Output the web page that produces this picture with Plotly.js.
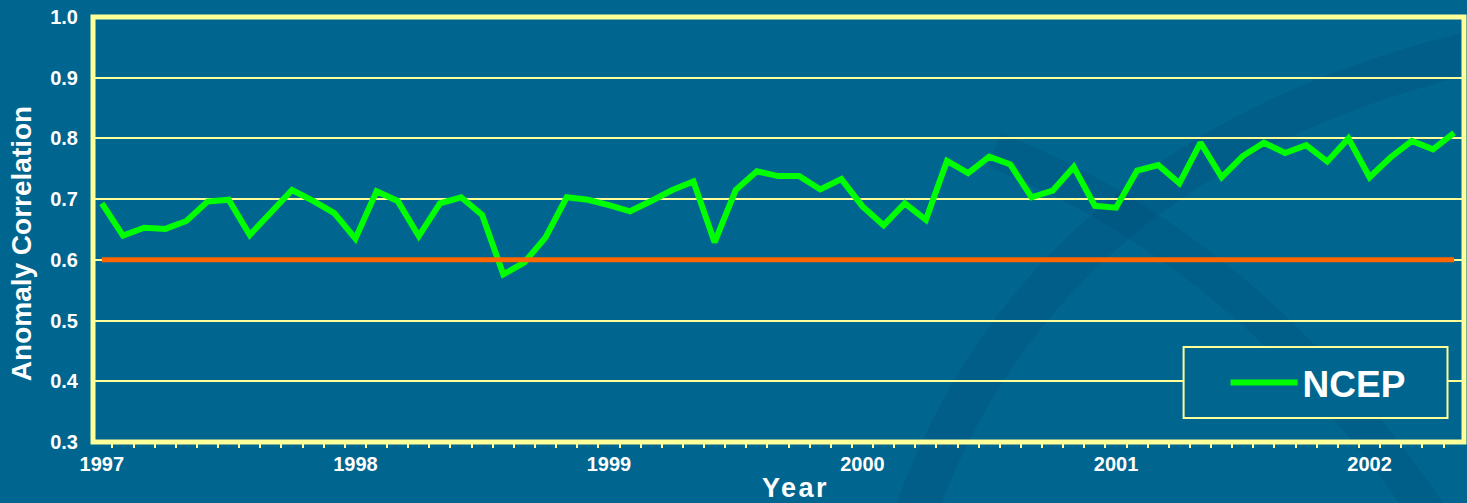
<!DOCTYPE html>
<html>
<head>
<meta charset="utf-8">
<script src="https://cdn.plot.ly/plotly-3.0.1.min.js"></script>
<style>
  html, body { margin: 0; padding: 0; background: #00658f; }
  #chart { width: 1467px; height: 503px; }
  .xtitle { letter-spacing: 2.5px; }
</style>
</head>
<body>
<div id="chart"></div>
<script>
// ---- Data ----
const startYear = 1997;           // first month: January 1997
const yearLabels = ['1997', '1998', '1999', '2000', '2001', '2002'];
// NCEP monthly anomaly correlation, Jan 1997 .. May 2002
const ncep = [
  0.693, 0.640, 0.653, 0.651, 0.664, 0.696, 0.699, 0.641, 0.678, 0.715, 0.697, 0.677,
  0.635, 0.713, 0.697, 0.639, 0.693, 0.703, 0.674, 0.576, 0.596, 0.637, 0.703, 0.699,
  0.690, 0.680, 0.697, 0.715, 0.729, 0.629, 0.715, 0.746, 0.738, 0.738, 0.716, 0.733,
  0.688, 0.657, 0.693, 0.666, 0.763, 0.743, 0.770, 0.757, 0.703, 0.714, 0.753, 0.689,
  0.686, 0.747, 0.756, 0.726, 0.793, 0.736, 0.771, 0.793, 0.776, 0.789, 0.762, 0.800,
  0.736, 0.769, 0.796, 0.782, 0.809
];
const refLevel = [0.6, 0.6];      // useful-skill threshold line (start, end)
const yTicks = [0.3, 0.4, 0.5, 0.6, 0.7, 0.8, 0.9, 1.0];
const yTickText = ['0.3', '0.4', '0.5', '0.6', '0.7', '0.8', '0.9', '1.0'];

// month categories
const months = ncep.map((_, i) => {
  const y = startYear + Math.floor(i / 12);
  const m = (i % 12) + 1;
  return y + '-' + (m < 10 ? '0' + m : '' + m);
});
const monthTickText = months.map(m => {
  const [y, mm] = m.split('-');
  return (mm === '01' && yearLabels.includes(y)) ? y : '';
});

const BG = '#00658f';
const PALE = '#ffff99';
const FONT = 'Liberation Sans, Arial, sans-serif';

const traces = [
  {
    x: months, y: ncep,
    type: 'scatter', mode: 'lines', name: 'NCEP',
    line: { color: '#00ff00', width: 6, shape: 'linear' }
  },
  {
    x: [months[0], months[months.length - 1]],
    y: refLevel,
    type: 'scatter', mode: 'lines',
    line: { color: '#ff6600', width: 5 },
    showlegend: false, hoverinfo: 'skip'
  }
];

function px2x(p) { return (p - 93) / 1371.5; }
function px2y(p) { return (442 - p) / 425; }

const layout = {
  width: 1467, height: 503,
  paper_bgcolor: BG,
  plot_bgcolor: 'rgba(0,0,0,0)',
  margin: { l: 93, r: 3, t: 17, b: 61, pad: 0 },
  font: { family: FONT, color: '#ffffff' },
  showlegend: true,
  legend: {
    x: px2x(1226), y: px2y(383), xanchor: 'left', yanchor: 'middle',
    bgcolor: 'rgba(0,0,0,0)', borderwidth: 0,
    font: { family: FONT, size: 37, color: '#ffffff', weight: 'bold' },
    itemwidth: 67
  },
  xaxis: {
    type: 'category',
    categoryorder: 'array', categoryarray: months,
    range: [-0.42, 64.47],
    tickmode: 'array', tickvals: months, ticktext: monthTickText,
    tickson: 'boundaries',
    ticks: 'outside', ticklen: 5, tickwidth: 2, tickcolor: PALE,
    showgrid: false, zeroline: false, showline: false,
    tickangle: 0,
    tickfont: { family: FONT, size: 20, color: '#ffffff', weight: 'bold' },
    ticklabelstandoff: 8,
    title: { text: 'Year', font: { family: FONT, size: 27, color: '#ffffff', weight: 'bold' }, standoff: 8 },
    fixedrange: true
  },
  yaxis: {
    range: [0.3, 1.0],
    tickmode: 'array', tickvals: yTicks, ticktext: yTickText,
    ticks: '', showgrid: true, gridcolor: PALE, gridwidth: 2,
    zeroline: false, showline: false,
    tickfont: { family: FONT, size: 20, color: '#ffffff', weight: 'bold' },
    ticklabelstandoff: 14,
    title: { text: 'Anomaly Correlation', font: { family: FONT, size: 28, color: '#ffffff', weight: 'bold' }, standoff: 10 },
    fixedrange: true
  },
  shapes: [
    // faint decorative background swooshes
    { type: 'path', xref: 'paper', yref: 'paper', layer: 'below',
      path: 'M' + px2x(915) + ',' + px2y(515) + ' Q' + px2x(1045) + ',' + px2y(150) + ' ' + px2x(1490) + ',' + px2y(48),
      line: { color: 'rgba(0,45,85,0.11)', width: 42 } },
    { type: 'path', xref: 'paper', yref: 'paper', layer: 'below',
      path: 'M' + px2x(995) + ',' + px2y(150) + ' Q' + px2x(1250) + ',' + px2y(250) + ' ' + px2x(1430) + ',' + px2y(515),
      line: { color: 'rgba(0,45,85,0.10)', width: 36 } },
    // legend frame (filled so the gridline stops at it)
    { type: 'rect', xref: 'paper', yref: 'paper', layer: 'above',
      x0: px2x(1184), x1: px2x(1448), y0: px2y(418), y1: px2y(347),
      line: { color: PALE, width: 2 }, fillcolor: BG },
    // plot frame
    { type: 'rect', xref: 'paper', yref: 'paper', layer: 'above',
      x0: 0, x1: 1, y0: 0, y1: 1,
      line: { color: PALE, width: 5 }, fillcolor: 'rgba(0,0,0,0)' }
  ]
};

Plotly.newPlot('chart', traces, layout, { displayModeBar: false, staticPlot: true }).then(gd => {
  // nudge axis titles to match the original slide placement
  const yt = gd.querySelector('.ytitle');
  if (yt) yt.setAttribute('transform', 'translate(0,14) ' + (yt.getAttribute('transform') || ''));
  const xt = gd.querySelector('.xtitle');
  if (xt) xt.setAttribute('transform', 'translate(17,0) ' + (xt.getAttribute('transform') || ''));
});
</script>
</body>
</html>
